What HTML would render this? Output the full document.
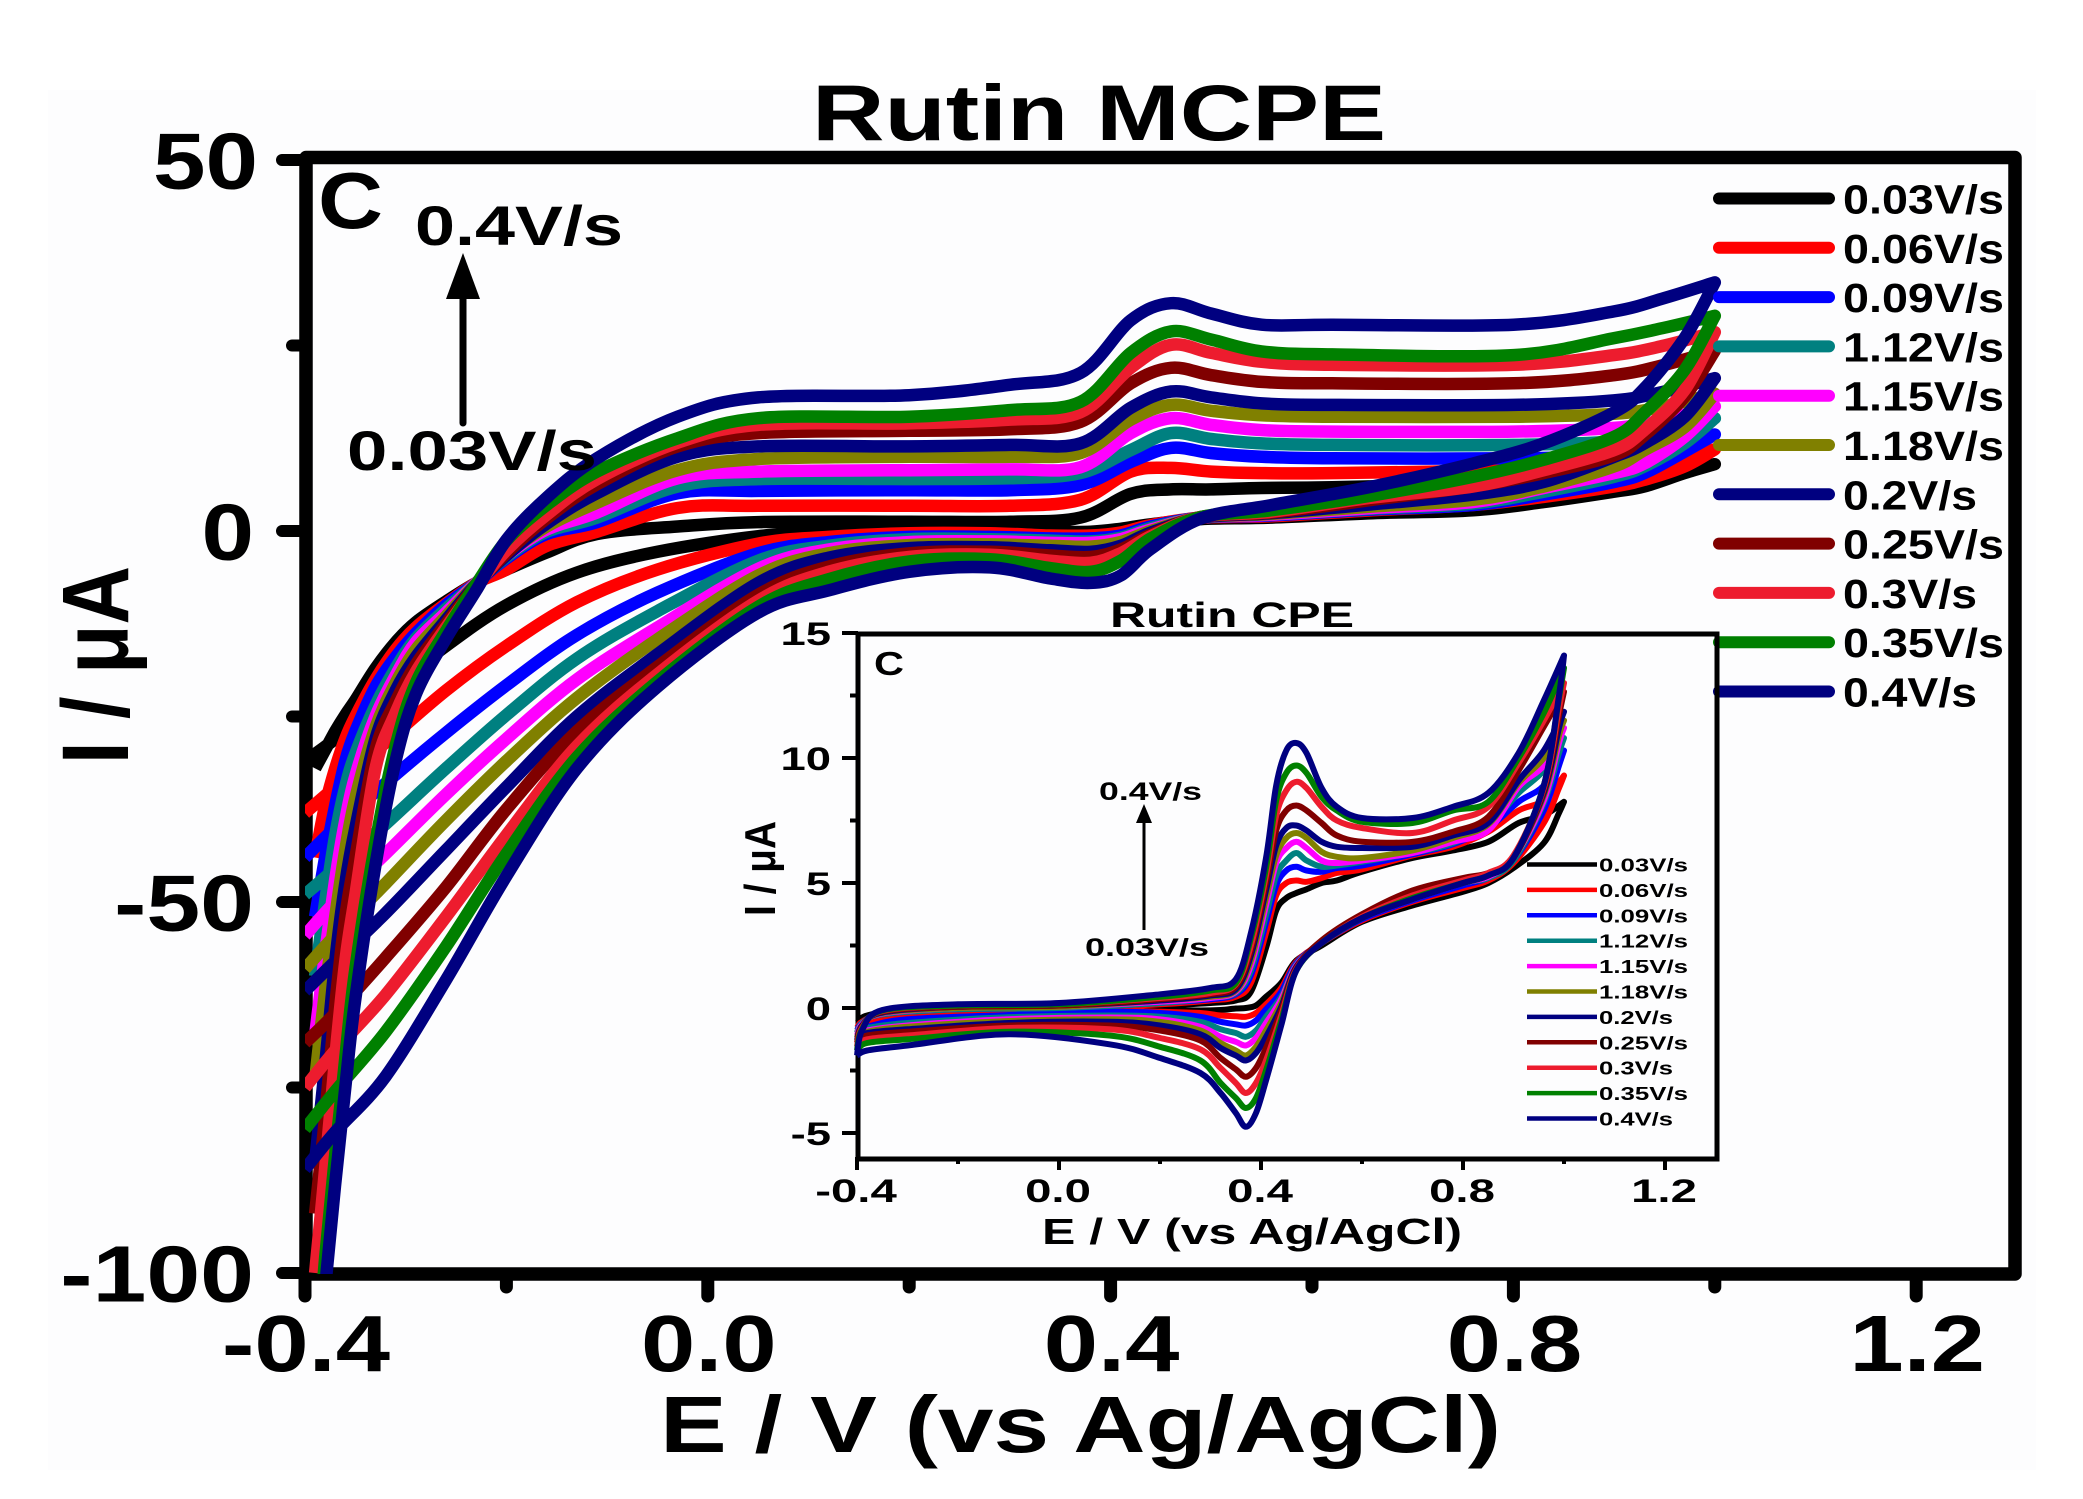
<!DOCTYPE html>
<html lang="en">
<head>
<meta charset="utf-8">
<title>Rutin MCPE cyclic voltammograms</title>
<style>
html,body{margin:0;padding:0;background:#fff;}
svg{display:block;}
text{font-family:"Liberation Sans",sans-serif;font-weight:bold;fill:#000;}
</style>
</head>
<body>
<svg id="chart" xmlns="http://www.w3.org/2000/svg" width="2083" height="1499" viewBox="0 0 2083 1499">
  <defs>
    <clipPath id="main-clip"><rect x="305" y="150" width="1720" height="1124"/></clipPath>
  </defs>
  <rect x="0" y="0" width="2083" height="1499" fill="#ffffff"/>
  <rect x="48" y="90" width="1988" height="1380" fill="#fdfdfe"/>
  <g id="main-ticks"></g>
  <rect x="306" y="157.5" width="1709" height="1116.5" fill="none" stroke="#000" stroke-width="13.5" stroke-linejoin="round"/>
  <g id="main-curves" clip-path="url(#main-clip)"></g>
  <g id="main-labels"></g>

  <text x="812" y="140" font-size="79" textLength="574" lengthAdjust="spacingAndGlyphs">Rutin MCPE</text>
  <text x="660" y="1452" font-size="80" textLength="841" lengthAdjust="spacingAndGlyphs">E / V (vs Ag/AgCl)</text>
  <text transform="translate(128,764) rotate(-90)" font-size="95" textLength="198" lengthAdjust="spacingAndGlyphs">I / μA</text>
  <text x="318" y="228" font-size="80" textLength="65" lengthAdjust="spacingAndGlyphs">C</text>
  <text x="415" y="245" font-size="56" textLength="208" lengthAdjust="spacingAndGlyphs">0.4V/s</text>
  <text x="347" y="470" font-size="56" textLength="250" lengthAdjust="spacingAndGlyphs">0.03V/s</text>
  <g>
    <line x1="463" y1="423" x2="463" y2="290" stroke="#000" stroke-width="7" stroke-linecap="round"/>
    <polygon points="463,253 480,299 446,299" fill="#000"/>
  </g>
  <g id="main-legend"></g>

  <g id="inset">
    <g id="inset-ticks"></g>
    <rect x="858" y="634" width="859" height="525" fill="none" stroke="#000" stroke-width="5"/>
    <g id="inset-curves"></g>
    <g id="inset-labels"></g>
    <text x="1110" y="627" font-size="35" textLength="244" lengthAdjust="spacingAndGlyphs">Rutin CPE</text>
    <text x="1042" y="1244" font-size="36" textLength="420" lengthAdjust="spacingAndGlyphs">E / V (vs Ag/AgCl)</text>
    <text transform="translate(775,916) rotate(-90)" font-size="44" textLength="95" lengthAdjust="spacingAndGlyphs">I / μA</text>
    <text x="874" y="675" font-size="33" textLength="30" lengthAdjust="spacingAndGlyphs">C</text>
    <text x="1099" y="800" font-size="25" textLength="103" lengthAdjust="spacingAndGlyphs">0.4V/s</text>
    <text x="1085" y="956" font-size="25" textLength="124" lengthAdjust="spacingAndGlyphs">0.03V/s</text>
    <g>
      <line x1="1144" y1="930" x2="1144" y2="820" stroke="#000" stroke-width="3"/>
      <polygon points="1144,804 1152,823 1136,823" fill="#000"/>
    </g>
    <g id="inset-legend"></g>
  </g>
</svg>

<script>
const seriesLabels = ['0.03V/s','0.06V/s','0.09V/s','1.12V/s','1.15V/s','1.18V/s','0.2V/s','0.25V/s','0.3V/s','0.35V/s','0.4V/s'];
const seriesColors = ['#000000','#ff0000','#0000ff','#008080','#ff00ff','#808000','#000080','#800000','#ed1c2e','#008000','#000080'];

/* main chart: forward sweep potentials and currents (uA) */
const mainForwardE = [-0.39,-0.38,-0.37,-0.36,-0.35,-0.33,-0.31,-0.29,-0.26,-0.23,-0.2,-0.16,-0.11,-0.03,0.05,0.2,0.3,0.37,0.42,0.46,0.5,0.55,0.62,0.8,0.9,0.95,1.0];
const mainFwd003 = [-32,-29.5,-27,-24.8,-22.8,-18.5,-15,-12.3,-9.5,-7,-5.2,-2.9,-0.4,0.6,1.2,1.25,1.25,1.8,5,5.6,5.6,5.8,5.9,6.5,7.2,7.9,9];
const mainFwd006 = [-44,-37,-32,-28,-25,-20,-16,-13,-9.8,-7,-5.2,-2,-0.1,3.1,3.4,3.4,3.4,4.2,8,8.5,8,7.8,7.8,8.2,8.7,9.6,11];
const mainFwd009 = [-52,-44,-37,-31,-27,-21,-17,-13.8,-10,-7,-3.7,-0.4,1.2,5.1,5.4,5.5,5.5,6.2,9.3,11.2,10.5,10,9.8,9.8,10.2,11.3,13];
const mainFwd012 = [-60,-50,-41,-34.5,-30,-23.5,-18.5,-14.5,-10.5,-7,-3.5,-0.1,1.8,6,7,7,7.1,7.8,10.9,13.2,12.4,11.8,11.6,11.6,12.1,13.4,15.2];
const mainFwd015 = [-68,-57,-47,-39,-33,-25,-19.5,-15,-11,-7,-3.3,0.2,2.5,7.1,8,8.2,8.3,8.6,13.2,15.2,14.3,13.6,13.4,13.4,13.9,15,16.8];
const mainFwd018 = [-74,-62,-52,-43,-36,-26.5,-20.5,-16,-11.5,-7.1,-3.2,0.6,3.8,8.2,9.7,10,10,10.5,15,17,16.2,15.6,15.4,15.4,15.8,16.8,18.5];
const mainFwd020 = [-85,-72,-58,-47.5,-40,-28,-21.5,-17,-12,-7.2,-3.3,1,5.1,10,11.4,11.4,11.6,11.8,16.6,18.8,18,17.2,17,17,17.6,18.8,20.6];
const mainFwd025 = [-92,-79,-64,-52,-44,-29.5,-23,-18,-12.5,-7.3,-3,1.7,6.3,11.4,13.2,13.5,13.7,14.7,19.9,22,21,20.1,19.9,19.9,21,22.4,24.3];
const mainFwd030 = [-100,-86,-71,-58,-49,-32,-24.5,-19,-13,-7.5,-2.6,2.2,7,11.9,14.3,14.5,15,16,22,25.1,24,22.8,22.4,22.4,23.7,25,26.8];
const mainFwd035 = [-114,-98,-84,-71,-59,-42,-29,-20.5,-13.5,-7.2,-1.3,3.5,8,12.5,15.2,15.4,16.3,17.4,24,26.9,25.8,24.2,23.8,23.7,26,27.4,29];
const mainFwd040 = [-118,-102,-88,-75,-63,-45,-31,-22,-14.5,-8,-1.2,4.5,9.8,15.4,18,18.3,19.7,21.3,28.4,30.7,29.3,27.8,27.8,27.8,29.6,31.4,33.5];

/* main chart: reverse sweep potentials and currents (uA) */
const mainReverseE = [1.0,0.97,0.93,0.9,0.83,0.76,0.66,0.56,0.49,0.44,0.41,0.38,0.34,0.28,0.2,0.12,0.05,-0.05,-0.13,-0.2,-0.26,-0.32,-0.37,-0.4];
const mainRev003 = [9,7.8,6,5.3,3.9,2.8,2.4,1.8,1.6,0.9,0.3,-0.1,-0.1,0.1,0.2,-0.1,-0.7,-2.8,-5.6,-10,-15.5,-22,-28,-31];
const mainRev006 = [11,8.7,6.9,6,4.6,3.5,2.8,2,1.8,0.8,-0.2,-0.6,-0.6,-0.3,-0.3,-0.8,-1.7,-5.2,-9.6,-15.5,-21.5,-28.5,-34.5,-38];
const mainRev009 = [13,10.7,7.8,6.6,4.9,3.5,2.9,2.1,1.8,0.6,-0.6,-1,-1,-0.8,-0.8,-1.5,-3,-8.3,-14,-20.8,-27.2,-34,-40,-44];
const mainRev012 = [15.2,11.8,8.7,7.3,5.3,3.7,3,2.2,1.8,0.4,-0.9,-1.4,-1.3,-1.1,-1.1,-2,-4,-10.8,-17.2,-24.8,-32,-39.5,-45.5,-49];
const mainRev015 = [16.8,12.7,9.1,7.8,5.8,3.9,3.1,2.2,1.8,0.2,-1.1,-1.6,-1.6,-1.4,-1.5,-2.5,-5.1,-13,-20,-28,-35.5,-43.5,-50,-54.5];
const mainRev018 = [18.5,14,10.9,8.7,6,4.2,3.3,2.3,1.8,0,-1.5,-2.1,-2,-1.8,-1.9,-3,-6,-14.6,-22.5,-31,-39,-47.5,-54.5,-59];
const mainRev020 = [20.6,15.4,11.8,10,6.6,4.9,3.6,2.4,1.8,-0.2,-2,-2.8,-2.6,-2.2,-2.3,-3.6,-7,-16.6,-25,-34.5,-43,-51.5,-58,-62];
const mainRev025 = [24.3,18.1,12.9,10.2,7.8,6,4.2,2.5,1.9,-0.5,-2.5,-3.5,-3.3,-2.8,-3,-4.8,-8.6,-18.3,-27,-37.5,-48,-57.5,-65,-69];
const mainRev030 = [26.8,19,13.6,10.9,8.2,6,4.5,2.6,1.9,-0.7,-3,-4.3,-4,-3.2,-3.5,-5.5,-9.4,-19.3,-29,-41,-52,-62.5,-70,-75];
const mainRev035 = [29,21.7,15.9,12.7,9.6,7.3,4.8,2.8,1.9,-1,-4,-5.5,-5,-3.8,-4.1,-6.5,-10.2,-20.3,-30.5,-43.5,-56,-67.5,-75.5,-80.6];
const mainRev040 = [33.5,26,19.2,16,11.8,9.1,6,3.5,1.7,-2.4,-6,-7,-6.4,-4.9,-5.5,-8,-11,-21,-32,-46.5,-60.5,-73.5,-81,-86];

/* inset chart: forward sweep potentials and currents (uA) */
const insetForwardE = [-0.4,-0.39,-0.35,-0.2,0,0.2,0.3,0.35,0.38,0.41,0.43,0.45,0.47,0.49,0.52,0.55,0.6,0.7,0.78,0.85,0.91,0.96,1.0];
const insetFwd003 = [-0.6,-0.55,-0.3,-0.1,-0.05,0.1,0.2,0.3,0.65,2.4,3.9,4.4,4.6,4.75,5,5.1,5.45,6,6.3,6.65,7.4,7.7,8.25];
const insetFwd006 = [-0.8,-0.55,-0.28,-0.08,-0.02,0.15,0.3,0.45,1,3,4.5,5,5.1,5.05,5.2,5.4,5.55,6.1,6.45,7.05,7.9,8.3,9.3];
const insetFwd009 = [-0.9,-0.6,-0.25,-0.05,0,0.2,0.35,0.55,1.3,3.4,4.9,5.5,5.65,5.5,5.45,5.6,5.7,6.15,6.55,7.2,8.25,8.9,10.3];
const insetFwd012 = [-1,-0.6,-0.25,-0.05,0,0.2,0.4,0.6,1.5,3.7,5.3,5.9,6.2,5.9,5.65,5.7,5.85,6.2,6.6,7.3,8.6,9.5,10.8];
const insetFwd015 = [-1.1,-0.65,-0.22,0,0.05,0.25,0.4,0.65,1.7,4.1,5.8,6.4,6.65,6.4,5.9,5.8,5.9,6.2,6.65,7.1,8.85,9.7,11.2];
const insetFwd018 = [-1.2,-0.7,-0.2,0,0.05,0.3,0.45,0.7,1.9,4.4,6.1,6.8,7,6.8,6.25,6.05,6,6.3,6.8,7.35,9,10,11.5];
const insetFwd020 = [-1.3,-0.7,-0.18,0.05,0.1,0.3,0.5,0.75,2.1,4.7,6.5,7.2,7.3,7.1,6.65,6.45,6.4,6.45,6.9,7.4,9.1,10.3,11.85];
const insetFwd025 = [-1.4,-0.75,-0.15,0.05,0.1,0.35,0.55,0.85,2.3,5,7.1,7.9,8.1,7.9,7.4,6.9,6.65,6.65,7.05,7.65,9.5,11.25,12.65];
const insetFwd030 = [-1.55,-0.8,-0.12,0.1,0.15,0.4,0.6,0.95,2.5,5.3,7.7,8.7,9.05,8.8,8.05,7.5,7.2,7,7.5,8.05,9.8,11.5,13];
const insetFwd035 = [-1.7,-0.85,-0.1,0.1,0.15,0.45,0.7,1,2.8,5.6,8.3,9.4,9.7,9.4,8.45,7.9,7.45,7.4,7.9,8.25,10,11.8,13.6];
const insetFwd040 = [-1.9,-0.9,-0.08,0.15,0.2,0.55,0.8,1.15,3,6,8.9,10.3,10.6,10.2,8.8,8.05,7.6,7.6,8.05,8.6,10.2,12.3,14.1];

/* inset chart: reverse sweep potentials and currents (uA) */
const insetReverseE = [1.0,0.99,0.96,0.9,0.85,0.8,0.7,0.6,0.52,0.47,0.44,0.41,0.39,0.37,0.35,0.32,0.28,0.2,0.1,-0.1,-0.3,-0.38,-0.4];
const insetRev003 = [8.25,7.8,6.6,5.6,5,4.65,4.1,3.45,2.5,1.9,1,0.45,0.1,0,-0.02,-0.08,-0.1,-0.08,-0.05,-0.1,-0.08,-0.3,-0.6];
const insetRev006 = [9.3,8.8,7.4,5.8,5.1,4.8,4.25,3.5,2.6,1.85,0.8,0.15,-0.2,-0.35,-0.33,-0.3,-0.2,-0.15,-0.1,-0.15,-0.35,-0.6,-0.8];
const insetRev009 = [10.3,9.7,7.9,5.9,5.2,4.9,4.3,3.55,2.6,1.8,0.65,-0.05,-0.5,-0.7,-0.65,-0.55,-0.35,-0.2,-0.15,-0.28,-0.45,-0.75,-0.9];
const insetRev012 = [10.8,10.2,8.2,5.9,5.2,5,4.35,3.6,2.6,1.75,0.45,-0.35,-0.9,-1.15,-1,-0.85,-0.55,-0.35,-0.3,-0.37,-0.6,-0.8,-1];
const insetRev015 = [11.2,10.6,8.3,6,5.25,5,4.35,3.6,2.6,1.7,0.35,-0.6,-1.2,-1.5,-1.35,-1.15,-0.75,-0.45,-0.38,-0.45,-0.7,-0.9,-1.1];
const insetRev018 = [11.5,10.9,8.5,6,5.3,5,4.4,3.6,2.6,1.65,0.2,-0.9,-1.55,-1.9,-1.7,-1.4,-0.9,-0.55,-0.45,-0.52,-0.75,-0.95,-1.2];
const insetRev020 = [11.85,11.2,8.6,6,5.3,5,4.4,3.6,2.6,1.65,0.05,-1.15,-1.8,-2.1,-1.9,-1.6,-1.05,-0.7,-0.55,-0.6,-0.85,-1,-1.3];
const insetRev025 = [12.65,11.7,8.7,6,5.4,5.2,4.7,3.75,2.7,1.6,-0.1,-1.6,-2.4,-2.75,-2.45,-2,-1.3,-0.9,-0.7,-0.7,-0.95,-1.1,-1.4];
const insetRev030 = [13,12,8.8,6.1,5.4,5.1,4.5,3.65,2.6,1.55,-0.3,-2.1,-3,-3.4,-3,-2.4,-1.65,-1.2,-0.85,-0.8,-1.1,-1.25,-1.55];
const insetRev035 = [13.6,12.4,8.9,6,5.3,5,4.4,3.6,2.6,1.5,-0.5,-2.5,-3.6,-4,-3.6,-3,-2.1,-1.55,-1.1,-0.95,-1.25,-1.4,-1.7];
const insetRev040 = [14.1,12.5,8.9,6,5.3,5,4.35,3.6,2.6,1.5,-0.7,-2.9,-4.2,-4.75,-4.2,-3.4,-2.6,-2,-1.45,-1.05,-1.5,-1.7,-1.9];

/* tick values */
const mainXMajor = [-0.4,0,0.4,0.8,1.2];
const mainXMinor = [-0.2,0.2,0.6,1.0];
const mainYMajor = [50,0,-50,-100];
const mainYMinor = [25,-25,-75];
const insetXMajor = [-0.4,0,0.4,0.8,1.2];
const insetXMinor = [-0.2,0.2,0.6,1.0];
const insetYMajor = [15,10,5,0,-5];
const insetYMinor = [12.5,7.5,2.5,-2.5];

const mainFwd = [mainFwd003,mainFwd006,mainFwd009,mainFwd012,mainFwd015,mainFwd018,mainFwd020,mainFwd025,mainFwd030,mainFwd035,mainFwd040];
const mainRev = [mainRev003,mainRev006,mainRev009,mainRev012,mainRev015,mainRev018,mainRev020,mainRev025,mainRev030,mainRev035,mainRev040];
const insetFwd = [insetFwd003,insetFwd006,insetFwd009,insetFwd012,insetFwd015,insetFwd018,insetFwd020,insetFwd025,insetFwd030,insetFwd035,insetFwd040];
const insetRev = [insetRev003,insetRev006,insetRev009,insetRev012,insetRev015,insetRev018,insetRev020,insetRev025,insetRev030,insetRev035,insetRev040];

const SVGNS = 'http://www.w3.org/2000/svg';
const mainX = function (e) { return 305 + (e + 0.4) * 1007; };
const mainY = function (i) { return 531 - 7.42 * i; };
const insetX = function (e) { return 857 + (e + 0.4) * 505; };
const insetY = function (i) { return 1008 - 25 * i; };

function slug(label) {
  return label.toLowerCase().replace(/[^a-z0-9]+/g, '-');
}
function smoothPath(es, vs, fx, fy, moveFirst) {
  const p = es.map(function (e, k) { return [fx(e), fy(vs[k])]; });
  let d = (moveFirst ? 'M' : 'L') + p[0][0].toFixed(1) + ' ' + p[0][1].toFixed(1);
  for (let k = 0; k < p.length - 1; k++) {
    const a = p[Math.max(0, k - 1)], b = p[k], c = p[k + 1], n = p[Math.min(p.length - 1, k + 2)];
    const c1x = b[0] + (c[0] - a[0]) / 6, c1y = b[1] + (c[1] - a[1]) / 6;
    const c2x = c[0] - (n[0] - b[0]) / 6, c2y = c[1] - (n[1] - b[1]) / 6;
    d += 'C' + c1x.toFixed(1) + ' ' + c1y.toFixed(1) + ' ' + c2x.toFixed(1) + ' ' + c2y.toFixed(1) + ' ' + c[0].toFixed(1) + ' ' + c[1].toFixed(1);
  }
  return d;
}
function line(parent, x1, y1, x2, y2, width, color, cap) {
  const el = document.createElementNS(SVGNS, 'line');
  el.setAttribute('x1', x1);
  el.setAttribute('y1', y1);
  el.setAttribute('x2', x2);
  el.setAttribute('y2', y2);
  el.setAttribute('stroke', color);
  el.setAttribute('stroke-width', width);
  el.setAttribute('stroke-linecap', cap);
  parent.appendChild(el);
  return el;
}
function stretchedText(parent, str, x, y, size, sx, anchor) {
  const el = document.createElementNS(SVGNS, 'text');
  el.setAttribute('transform', 'translate(' + x + ',' + y + ') scale(' + sx + ',1)');
  el.setAttribute('font-size', size);
  el.setAttribute('text-anchor', anchor);
  el.textContent = str;
  parent.appendChild(el);
  return el;
}

/* main ticks */
const mainTicks = document.getElementById('main-ticks');
mainYMajor.forEach(function (v) {
  const el = line(mainTicks, 282, mainY(v), 306, mainY(v), 12, '#000', 'round');
  
  
});
mainYMinor.forEach(function (v) {
  const el = line(mainTicks, 292, mainY(v), 306, mainY(v), 12, '#000', 'round');
  
  
});
mainXMajor.forEach(function (v) {
  const el = line(mainTicks, mainX(v), 1274, mainX(v), 1296, 13, '#000', 'round');
  
  
});
mainXMinor.forEach(function (v) {
  const el = line(mainTicks, mainX(v), 1274, mainX(v), 1287, 13, '#000', 'round');
  
  
});

/* main tick labels */
const mainLabels = document.getElementById('main-labels');
mainYMajor.forEach(function (v) {
  const el = stretchedText(mainLabels, String(v), v > 0 ? 258 : 254, mainY(v) + 28.5, 80, v < 0 ? 1.21 : 1.18, 'end');
  
  
});
mainXMajor.forEach(function (v) {
  const el = stretchedText(mainLabels, v.toFixed(1), mainX(v) + 1, 1371, 80, 1.22, 'middle');
  
  
});

/* main curves */
const mainCurves = document.getElementById('main-curves');
seriesLabels.forEach(function (label, s) {
  const el = document.createElementNS(SVGNS, 'path');
  el.setAttribute('d', smoothPath(mainForwardE, mainFwd[s], mainX, mainY, true) + smoothPath(mainReverseE, mainRev[s], mainX, mainY, false));
  el.setAttribute('fill', 'none');
  el.setAttribute('stroke', seriesColors[s]);
  el.setAttribute('stroke-width', '12.5');
  el.setAttribute('stroke-linejoin', 'round');
  el.setAttribute('stroke-linecap', 'butt');
  
  
  mainCurves.appendChild(el);
});

/* main legend */
const mainLegend = document.getElementById('main-legend');
seriesLabels.forEach(function (label, s) {
  const rowY = 198.5 + s * 49.3;
  const swatch = line(mainLegend, 1719, rowY, 1829, rowY, 12, seriesColors[s], 'round');
  
  
  const natural = label.length === 7 ? 161 : 134;
  const t = document.createElementNS(SVGNS, 'text');
  t.setAttribute('x', 1843);
  t.setAttribute('y', rowY + 15);
  t.setAttribute('font-size', 41);
  t.setAttribute('textLength', natural);
  t.setAttribute('lengthAdjust', 'spacingAndGlyphs');
  t.textContent = label;
  
  
  mainLegend.appendChild(t);
});

/* inset ticks */
const insetTicks = document.getElementById('inset-ticks');
insetYMajor.forEach(function (v) {
  const el = line(insetTicks, 842, insetY(v), 858, insetY(v), 4, '#000', 'butt');
  
  
});
insetYMinor.forEach(function (v) {
  const el = line(insetTicks, 850, insetY(v), 858, insetY(v), 4, '#000', 'butt');
  
  
});
insetXMajor.forEach(function (v) {
  const el = line(insetTicks, insetX(v), 1157, insetX(v), 1170, 4, '#000', 'butt');
  
  
});
insetXMinor.forEach(function (v) {
  const el = line(insetTicks, insetX(v), 1157, insetX(v), 1164, 4, '#000', 'butt');
  
  
});

/* inset tick labels */
const insetLabels = document.getElementById('inset-labels');
insetYMajor.forEach(function (v) {
  const el = stretchedText(insetLabels, String(v), 831, insetY(v) + 12, 32, 1.42, 'end');
  
  
});
insetXMajor.forEach(function (v) {
  const el = stretchedText(insetLabels, v.toFixed(1), insetX(v) - 1, 1202, 32, 1.48, 'middle');
  
  
});

/* inset curves */
const insetCurves = document.getElementById('inset-curves');
seriesLabels.forEach(function (label, s) {
  const el = document.createElementNS(SVGNS, 'path');
  el.setAttribute('d', smoothPath(insetForwardE, insetFwd[s], insetX, insetY, true) + smoothPath(insetReverseE, insetRev[s], insetX, insetY, false));
  el.setAttribute('fill', 'none');
  el.setAttribute('stroke', seriesColors[s]);
  el.setAttribute('stroke-width', '6');
  el.setAttribute('stroke-linejoin', 'round');
  
  
  insetCurves.appendChild(el);
});

/* inset legend */
const insetLegend = document.getElementById('inset-legend');
seriesLabels.forEach(function (label, s) {
  const rowY = 864.5 + s * 25.4;
  const swatch = line(insetLegend, 1527, rowY, 1597, rowY, 4.5, seriesColors[s], 'butt');
  
  
  const natural = label.length === 7 ? 89 : 74;
  const t = document.createElementNS(SVGNS, 'text');
  t.setAttribute('x', 1599);
  t.setAttribute('y', rowY + 7);
  t.setAttribute('font-size', 18);
  t.setAttribute('textLength', natural);
  t.setAttribute('lengthAdjust', 'spacingAndGlyphs');
  t.textContent = label;
  
  
  insetLegend.appendChild(t);
});
</script>
</body>
</html>
